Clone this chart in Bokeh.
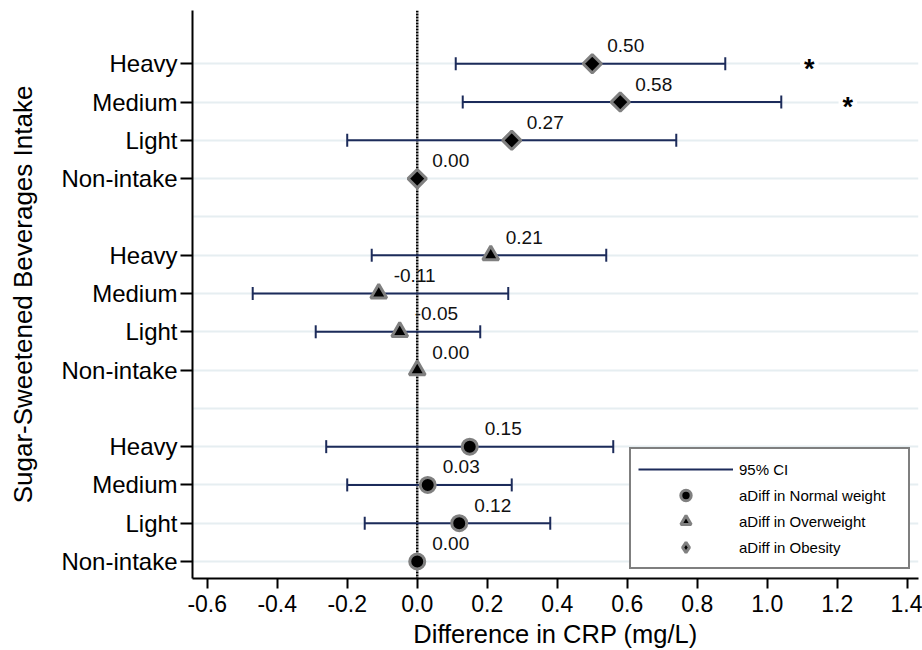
import numpy as np
from bokeh.plotting import figure
from bokeh.models import (Range1d, FixedTicker, PrintfTickFormatter, Span,
                          Legend, LegendItem, ColumnDataSource)
from bokeh.core.properties import value
from bokeh.embed import file_html
from bokeh.resources import INLINE

# ---------------- data ----------------
categories = ["Non-intake", "Light", "Medium", "Heavy"]
groups = ["Normal weight", "Overweight", "Obesity"]
group_base = [1, 6, 11]          # first row of each group (bottom to top)

normal_est = [0.00, 0.12, 0.03, 0.15]
normal_lo = [None, -0.15, -0.20, -0.26]
normal_hi = [None, 0.38, 0.27, 0.56]

over_est = [0.00, -0.05, -0.11, 0.21]
over_lo = [None, -0.29, -0.47, -0.13]
over_hi = [None, 0.18, 0.26, 0.54]

obese_est = [0.00, 0.27, 0.58, 0.50]
obese_lo = [None, -0.20, 0.13, 0.11]
obese_hi = [None, 0.74, 1.04, 0.88]

sig_group = "Obesity"
sig_cat = ["Heavy", "Medium"]
sig_x = [1.12, 1.23]

x_ticks = [-0.6, -0.4, -0.2, 0.0, 0.2, 0.4, 0.6, 0.8, 1.0, 1.2, 1.4]

FONT = "Liberation Sans"
NAVY = "#1c2b5a"
GRAY = "#808080"

est_all = [normal_est, over_est, obese_est]
lo_all = [normal_lo, over_lo, obese_lo]
hi_all = [normal_hi, over_hi, obese_hi]


def ypos(g, c):
    return group_base[g] + c


p = figure(width=922, height=650,
           x_range=Range1d(-0.642, 1.432), y_range=Range1d(0.556, 15.392),
           output_backend="svg", toolbar_location=None,
           min_border_left=192, min_border_right=4,
           min_border_top=10, min_border_bottom=72)
p.outline_line_color = None

# grid
p.xgrid.visible = False
p.ygrid.ticker = FixedTicker(ticks=list(range(group_base[0], group_base[-1] + len(categories))))
p.ygrid.grid_line_color = "#e6eef1"
p.ygrid.grid_line_width = 2

# zero reference line
zero = Span(location=0, dimension="height", line_color="black",
            line_width=2.5, line_dash="2 1", level="underlay")
p.add_layout(zero)

# CI
ci_x0, ci_x1, ci_y = [], [], []
for g in range(3):
    for c in range(len(categories)):
        if lo_all[g][c] is not None:
            ci_x0.append(lo_all[g][c])
            ci_x1.append(hi_all[g][c])
            ci_y.append(ypos(g, c))
ci_src = ColumnDataSource(dict(x0=ci_x0, x1=ci_x1, y=ci_y))
r_ci = p.segment(x0="x0", y0="y", x1="x1", y1="y", source=ci_src,
                 line_color=NAVY, line_width=2)
p.scatter(x="x0", y="y", source=ci_src, marker="dash", angle=np.pi / 2,
          size=13, line_color=NAVY, line_width=2)
p.scatter(x="x1", y="y", source=ci_src, marker="dash", angle=np.pi / 2,
          size=13, line_color=NAVY, line_width=2)

# point estimates
markers = [dict(marker="circle", size=15, angle=0),
           dict(marker="triangle", size=16, angle=0),
           dict(marker="square", size=13, angle=np.pi / 4)]
rends, srcs = [], []
for g in range(3):
    ys = [ypos(g, c) for c in range(len(categories))]
    src = ColumnDataSource(dict(x=est_all[g], y=ys,
                                lab=["%.2f" % v for v in est_all[g]]))
    srcs.append(src)
    r = p.scatter(x="x", y="y", source=src, fill_color="black",
                  line_color=GRAY, line_width=3, **markers[g])
    rends.append(r)
    p.text(x="x", y="y", text="lab", source=src, x_offset=15, y_offset=-18,
           text_align="left", text_baseline="middle",
           text_font=value(FONT), text_font_size="19px", text_color="#111111")

# legend key for the obesity diamond (legend draws markers unrotated)
r_leg_diamond = p.scatter(x="x", y="y", source=srcs[2], marker="diamond",
                          size=14, fill_color="black", line_color=GRAY,
                          line_width=3, visible=False)

# significance asterisks
gi = groups.index(sig_group)
sig_src = ColumnDataSource(dict(x=sig_x, y=[ypos(gi, categories.index(c)) for c in sig_cat],
                                t=["*"] * len(sig_x)))
p.text(x="x", y="y", text="t", source=sig_src, text_align="center",
       text_baseline="middle", y_offset=5, text_font=value(FONT),
       text_font_size="27px", text_font_style="bold", text_color="black",
       background_fill_color="white", padding=4)

# axes
yt = [ypos(g, c) for g in range(3) for c in range(len(categories))]
p.yaxis.ticker = FixedTicker(ticks=yt)
p.yaxis.major_label_overrides = {ypos(g, c): categories[c]
                                 for g in range(3) for c in range(len(categories))}
p.xaxis.ticker = FixedTicker(ticks=x_ticks)
p.xaxis.formatter = PrintfTickFormatter(format="%.1f")

for ax in (p.xaxis[0], p.yaxis[0]):
    ax.axis_line_color = "black"
    ax.axis_line_width = 2
    ax.major_tick_line_color = "black"
    ax.major_tick_line_width = 2
    ax.minor_tick_line_color = None
    ax.major_tick_in = 0
    ax.major_label_text_font = FONT
    ax.major_label_text_color = "black"
    ax.axis_label_text_font = FONT
    ax.axis_label_text_font_style = "normal"
    ax.axis_label_text_color = "black"

p.yaxis.major_label_text_font_size = "24px"
p.yaxis.major_tick_out = 12
p.yaxis.major_label_standoff = 3
p.yaxis.axis_label = "Sugar-Sweetened Beverages Intake"
p.yaxis.axis_label_text_font_size = "26px"
p.yaxis.axis_label_standoff = 20

p.xaxis.major_label_text_font_size = "23px"
p.xaxis.major_tick_out = 10
p.xaxis.major_label_standoff = 6
p.xaxis.axis_label = "Difference in CRP (mg/L)"
p.xaxis.axis_label_text_font_size = "25.5px"
p.xaxis.axis_label_standoff = 5

# legend
legend = Legend(items=[LegendItem(label="95% CI", renderers=[r_ci]),
                       LegendItem(label="aDiff in " + groups[0], renderers=[rends[0]]),
                       LegendItem(label="aDiff in " + groups[1], renderers=[rends[1]]),
                       LegendItem(label="aDiff in " + groups[2], renderers=[r_leg_diamond])],
                location=(437, 9), orientation="vertical",
                glyph_width=95, glyph_height=26, spacing=0, padding=7,
                label_standoff=6, label_width=162, label_height=20, margin=0,
                label_text_font=FONT, label_text_font_size="15px",
                label_text_color="black",
                border_line_color="black", border_line_width=2,
                background_fill_color="white", background_fill_alpha=1,
                inactive_fill_alpha=0)
p.add_layout(legend)

open("out.html", "w").write(file_html(p, INLINE))
